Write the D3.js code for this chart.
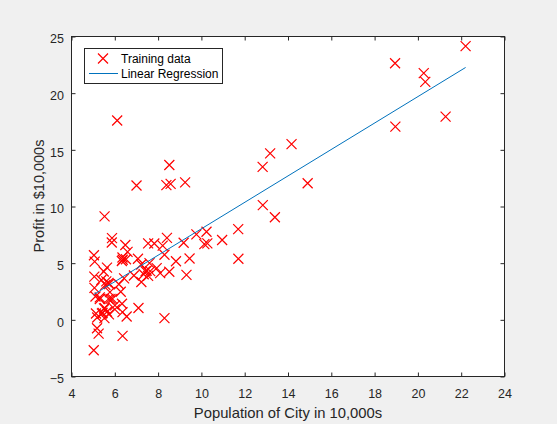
<!DOCTYPE html>
<html><head><meta charset="utf-8">
<script src="https://cdn.jsdelivr.net/npm/d3@7"></script>
<style>body{margin:0;background:#f0f0f0;}svg{display:block;font-family:"Liberation Sans",Arial,sans-serif;}</style>
</head><body><svg id="c" width="557" height="424"></svg>
<script>
const population = [6.1101,5.5277,8.5186,7.0032,5.8598,8.3829,7.4764,8.5781,6.4862,5.0546,5.7107,14.164,5.734,8.4084,5.6407,5.3794,6.3654,5.1301,6.4296,7.0708,6.1891,20.27,5.4901,6.3261,5.5649,18.945,12.828,10.957,13.176,22.203,5.2524,6.5894,9.2482,5.8918,8.2111,7.9334,8.0959,5.6063,12.836,6.3534,5.4069,6.8825,11.708,5.7737,7.8247,7.0931,5.0702,5.8014,11.7,5.5416,7.5402,5.3077,7.4239,7.6031,6.3328,6.3589,6.2742,5.6397,9.3102,9.4536,8.8254,5.1793,21.279,14.908,18.959,7.2182,8.2951,10.236,5.4994,20.341,10.136,7.3345,6.0062,7.2259,5.0269,6.5479,7.5386,5.0365,10.274,5.1077,5.7292,5.1884,6.3557,9.7687,6.5159,8.5172,9.1802,6.002,5.5204,5.0594,5.7077,7.6366,5.8707,5.3054,8.2934,13.394,5.4369];
const profit = [17.592,9.1302,13.662,11.854,6.8233,11.886,4.3483,12,6.5987,3.8166,3.2522,15.505,3.1551,7.2258,0.71618,3.5129,5.3048,0.56077,3.6518,5.3893,3.1386,21.767,4.263,5.1875,3.0825,22.638,13.501,7.0467,14.692,24.147,-1.22,5.9966,12.134,1.8495,6.5426,4.5623,4.1164,3.3928,10.117,5.4974,0.55657,3.9115,5.3854,2.4406,6.7318,1.0463,5.1337,1.844,8.0043,1.0179,6.7504,1.8396,4.2885,4.9981,1.4233,-1.4211,2.4756,4.6042,3.9624,5.4141,5.1694,-0.74279,17.929,12.054,17.054,4.8852,5.7442,7.7754,1.0173,20.992,6.6799,4.0259,1.2784,3.3411,-2.6807,0.29678,3.8845,5.7014,6.7526,2.0576,0.47953,0.20421,0.67861,7.5435,5.3436,4.2415,6.7981,0.92695,0.152,2.8214,1.8451,4.2959,7.2029,1.9869,0.14454,9.0551,0.61705];
const theta = [-3.6303, 1.1664];
const xTicks = [4,6,8,10,12,14,16,18,20,22,24];
const yTicks = [-5,0,5,10,15,20,25];
const xDomain = [4,24], yDomain = [-5,25];
const legendLabels = ["Training data","Linear Regression"];

const svg = d3.select("#c");
const L=71.5, R=504.5, T=36.5, B=376.5;
const x = d3.scaleLinear().domain(xDomain).range([L,R]);
const y = d3.scaleLinear().domain(yDomain).range([B,T]);

svg.append("rect").attr("x",L).attr("y",T).attr("width",R-L).attr("height",B-T).attr("fill","#fff");

const tick = 4;
function styleAxis(g){g.select(".domain").remove();g.selectAll("line").attr("stroke","#262626");g.selectAll("text").attr("fill","#262626").attr("font-size","12.5px").attr("font-family","'Liberation Sans',Arial,sans-serif");}
svg.append("g").attr("transform",`translate(0,${B})`).call(d3.axisBottom(x).tickValues(xTicks).tickSize(-tick).tickPadding(12.5).tickFormat(d3.format("d"))).call(styleAxis);
svg.append("g").attr("transform",`translate(0,${T})`).call(d3.axisTop(x).tickValues(xTicks).tickSize(-tick).tickFormat("")).call(styleAxis);
const yl = svg.append("g").attr("transform",`translate(${L},0)`).call(d3.axisLeft(y).tickValues(yTicks).tickSize(-tick).tickPadding(7.5).tickFormat(d3.format("d"))).call(styleAxis);
yl.selectAll("text").attr("dy","0.5em");
svg.append("g").attr("transform",`translate(${R},0)`).call(d3.axisRight(y).tickValues(yTicks).tickSize(-tick).tickFormat("")).call(styleAxis);
svg.append("rect").attr("x",L).attr("y",T).attr("width",R-L).attr("height",B-T).attr("fill","none").attr("stroke","#262626").attr("stroke-width",1);

// data markers
const m = 5;
const pts = svg.append("g").attr("stroke","#ff0000").attr("stroke-width",1.2).attr("fill","none");
population.forEach((px,i)=>{
  const cx=x(px), cy=y(profit[i]);
  pts.append("path").attr("d",`M${cx-m},${cy-m}L${cx+m},${cy+m}M${cx-m},${cy+m}L${cx+m},${cy-m}`);
});

// regression line
const xmin=d3.min(population), xmax=d3.max(population);
svg.append("line").attr("x1",x(xmin)).attr("y1",y(theta[0]+theta[1]*xmin)).attr("x2",x(xmax)).attr("y2",y(theta[0]+theta[1]*xmax)).attr("stroke","#0072bd").attr("stroke-width",1);

// axis labels
svg.append("text").attr("x",(L+R)/2).attr("y",418.3).attr("text-anchor","middle").attr("font-size","14.8px").attr("fill","#262626").text("Population of City in 10,000s");
svg.append("text").attr("transform",`translate(43.5,196) rotate(-90)`).attr("text-anchor","middle").attr("font-size","14.5px").attr("fill","#262626").text("Profit in $10,000s");

// legend
const lg = svg.append("g");
lg.append("rect").attr("x",84.5).attr("y",48.5).attr("width",138).attr("height",35).attr("fill","#fff").attr("stroke","#262626");
const lx=103, ly1=58.5, ly2=73.5;
lg.append("path").attr("d",`M${lx-m},${ly1-m}L${lx+m},${ly1+m}M${lx-m},${ly1+m}L${lx+m},${ly1-m}`).attr("stroke","#ff0000").attr("stroke-width",1.2).attr("fill","none");
lg.append("line").attr("x1",89).attr("x2",118).attr("y1",ly2).attr("y2",ly2).attr("stroke","#0072bd");
lg.append("text").attr("x",121).attr("y",62.5).attr("font-size","12px").attr("fill","#000").text(legendLabels[0]);
lg.append("text").attr("x",121).attr("y",77.5).attr("font-size","12px").attr("fill","#000").text(legendLabels[1]);
</script></body></html>
